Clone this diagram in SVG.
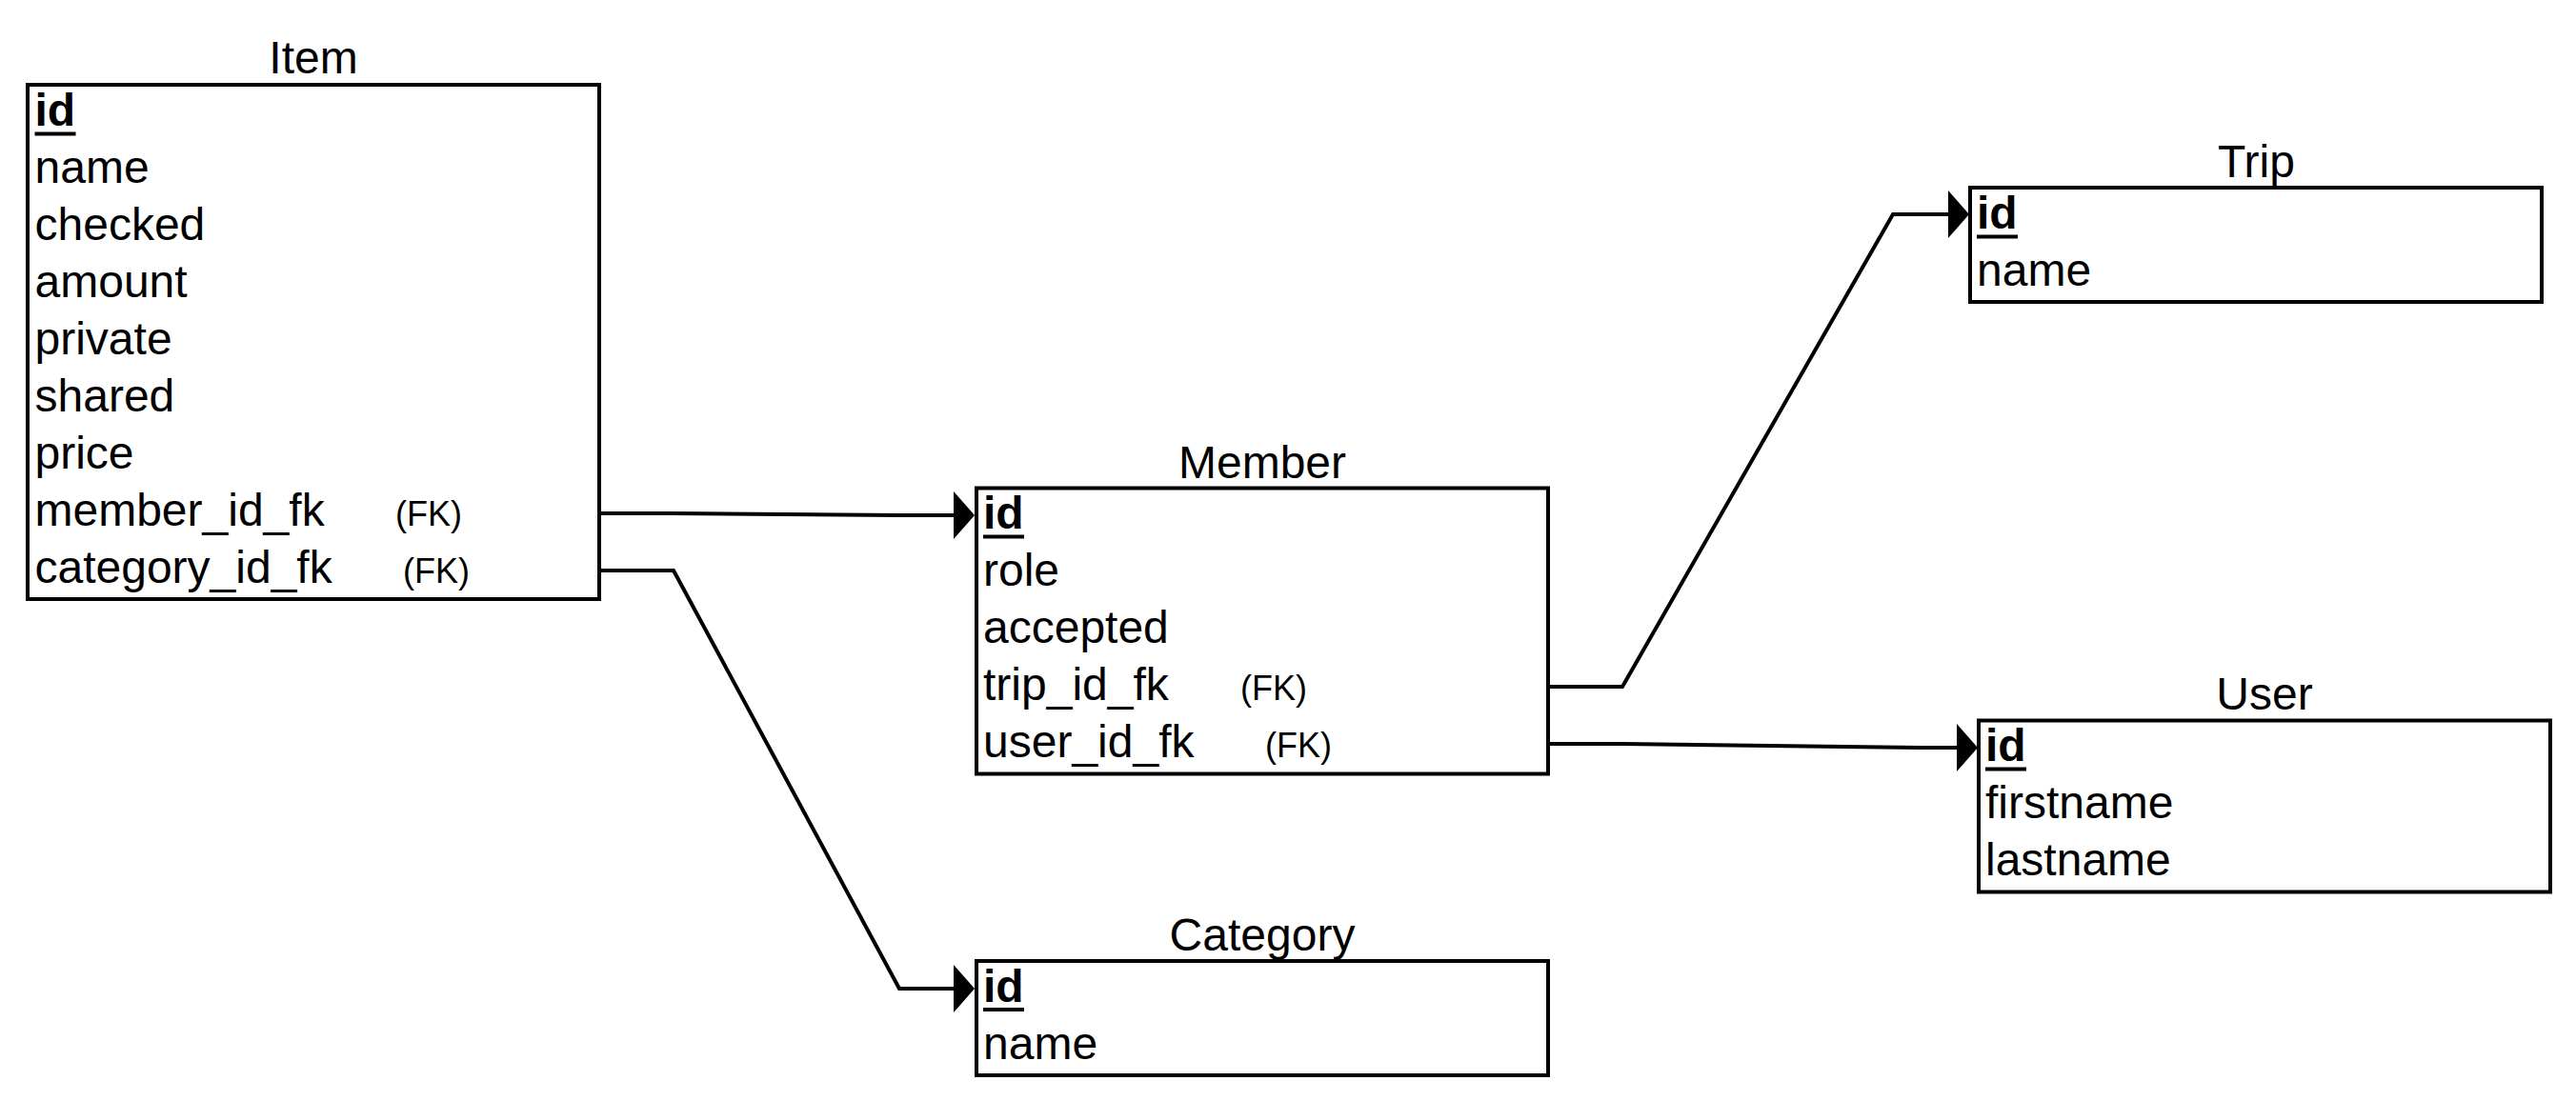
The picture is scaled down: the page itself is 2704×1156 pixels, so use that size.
<svg xmlns="http://www.w3.org/2000/svg" width="2704" height="1156" viewBox="0 0 2704 1156">
<defs>
<style>
.box{fill:#ffffff;stroke:#000000;stroke-width:4}
.t{font-family:"Liberation Sans",Arial,Helvetica,sans-serif;font-size:48px;fill:#000000}
.title{text-anchor:middle}
.pk{font-weight:bold}
.ul{stroke:#000000;stroke-width:4}
.fk{font-size:36px}
.conn{fill:none;stroke:#000000;stroke-width:4;stroke-linejoin:miter}
</style>
<marker id="arrow" viewBox="0 0 22 50" refX="0" refY="25" markerWidth="22" markerHeight="50" markerUnits="userSpaceOnUse" orient="auto">
<path d="M0,0 L22,25 L0,50 Z" fill="#000000"/>
</marker>
</defs>
<rect width="2704" height="1156" fill="#ffffff"/>

<g id="connectors">
<path class="conn" d="M629,539 L705,539 L944,541 L1001,541" marker-end="url(#arrow)"/>
<path class="conn" d="M629,599 L707,599 L944,1038 L1001,1038" marker-end="url(#arrow)"/>
<path class="conn" d="M1625,721 L1703,721 L1987,225 L2045,225" marker-end="url(#arrow)"/>
<path class="conn" d="M1625,781 L1703,781 L2015,785 L2054,785" marker-end="url(#arrow)"/>
</g>

<g id="item">
<text class="t title" x="329" y="77">Item</text>
<rect class="box" x="29" y="89" width="600" height="540"/>
<text class="t pk" x="36.5" y="132">id</text>
<line class="ul" x1="36.5" y1="140.5" x2="79.5" y2="140.5"/>
<text class="t" x="36.5" y="192">name</text>
<text class="t" x="36.5" y="252">checked</text>
<text class="t" x="36.5" y="312">amount</text>
<text class="t" x="36.5" y="372">private</text>
<text class="t" x="36.5" y="432">shared</text>
<text class="t" x="36.5" y="492">price</text>
<text class="t" x="36.5" y="552">member_id_fk<tspan class="fk" x="415">(FK)</tspan></text>
<text class="t" x="36.5" y="612">category_id_fk<tspan class="fk" x="423">(FK)</tspan></text>
</g>

<g id="member">
<text class="t title" x="1325" y="501.5">Member</text>
<rect class="box" x="1025" y="512.5" width="600" height="300"/>
<text class="t pk" x="1032" y="555">id</text>
<line class="ul" x1="1032" y1="563.5" x2="1075" y2="563.5"/>
<text class="t" x="1032" y="615">role</text>
<text class="t" x="1032" y="675">accepted</text>
<text class="t" x="1032" y="735">trip_id_fk<tspan class="fk" x="1302">(FK)</tspan></text>
<text class="t" x="1032" y="795">user_id_fk<tspan class="fk" x="1328">(FK)</tspan></text>
</g>

<g id="category">
<text class="t title" x="1325" y="997.5">Category</text>
<rect class="box" x="1025" y="1009" width="600" height="120"/>
<text class="t pk" x="1032" y="1051.5">id</text>
<line class="ul" x1="1032" y1="1060" x2="1075" y2="1060"/>
<text class="t" x="1032" y="1111.5">name</text>
</g>

<g id="trip">
<text class="t title" x="2368.5" y="185.5">Trip</text>
<rect class="box" x="2068" y="197" width="600" height="120"/>
<text class="t pk" x="2075" y="240">id</text>
<line class="ul" x1="2075" y1="248.5" x2="2118" y2="248.5"/>
<text class="t" x="2075" y="300">name</text>
</g>

<g id="user">
<text class="t title" x="2377" y="745">User</text>
<rect class="box" x="2077" y="756.5" width="600" height="180"/>
<text class="t pk" x="2084" y="799">id</text>
<line class="ul" x1="2084" y1="807.5" x2="2127" y2="807.5"/>
<text class="t" x="2084" y="859">firstname</text>
<text class="t" x="2084" y="919">lastname</text>
</g>
</svg>
